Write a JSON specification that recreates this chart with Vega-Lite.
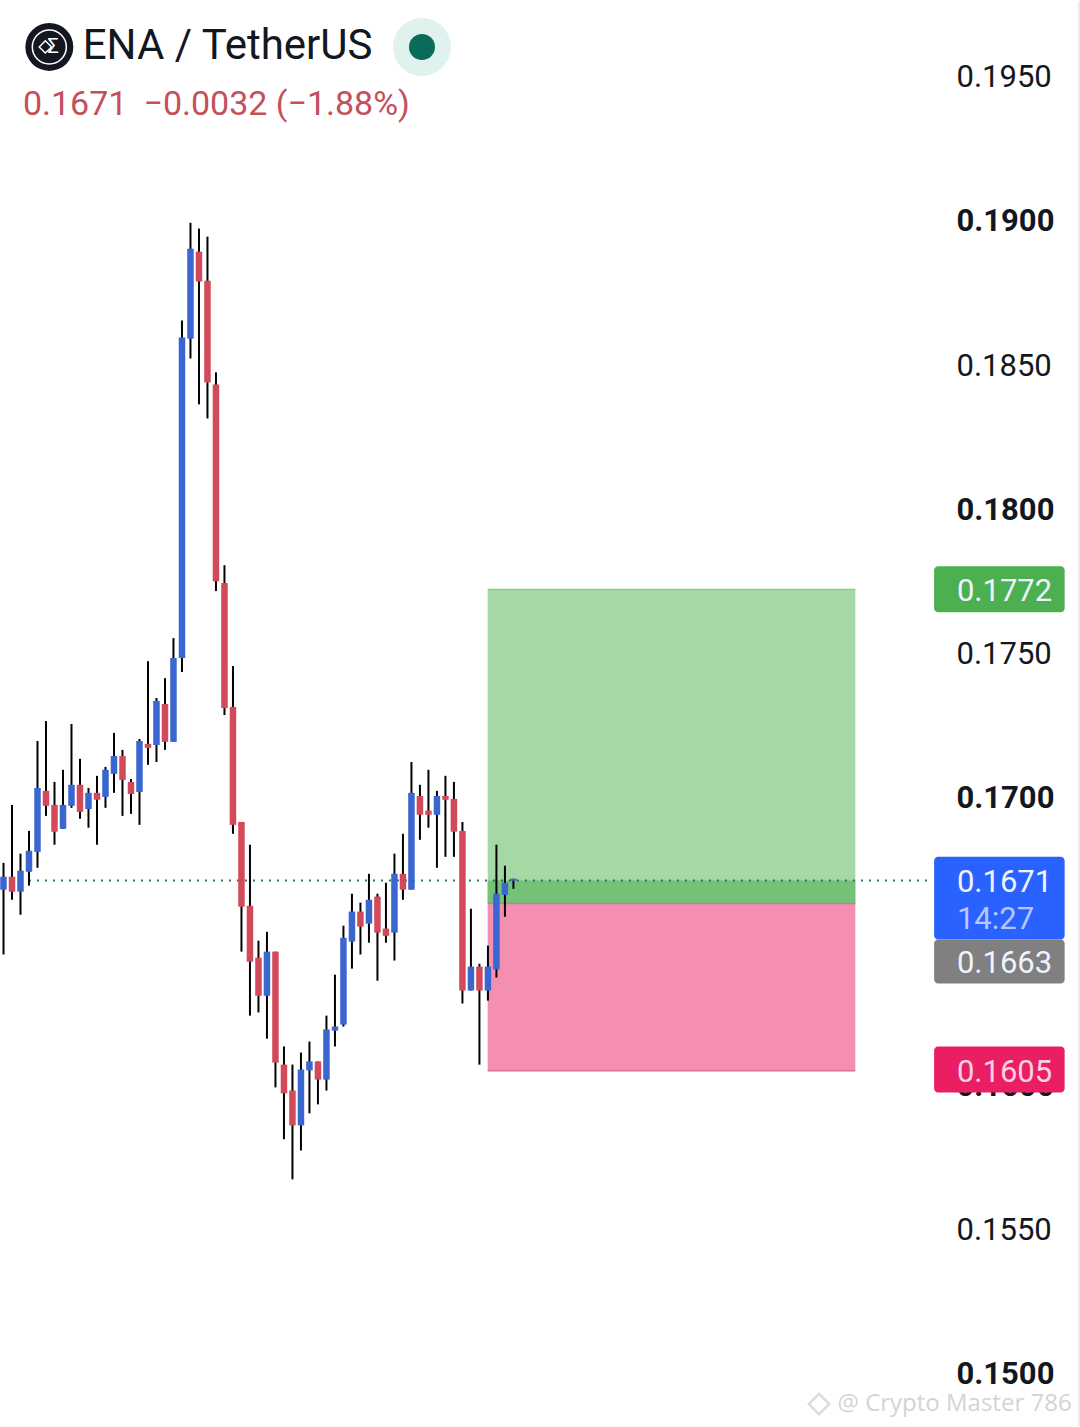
{
  "$schema": "https://vega.github.io/schema/vega-lite/v6.json",
  "width": 1080,
  "height": 1427,
  "padding": 0,
  "autosize": {"type": "fit", "contains": "padding"},
  "background": "#ffffff",
  "config": {"view": {"stroke": null}},
  "resolve": {"scale": {"color": "independent", "stroke": "independent", "fill": "independent"}},
  "datasets": {
    "candles": [
      {"bar":0,"side":"up","open":0.16678,"high":0.16771,"low":0.16453,"close":0.16723},
      {"bar":1,"side":"down","open":0.16723,"high":0.16972,"low":0.16643,"close":0.16671},
      {"bar":2,"side":"up","open":0.16671,"high":0.16803,"low":0.16591,"close":0.16744},
      {"bar":3,"side":"up","open":0.16740,"high":0.16882,"low":0.16692,"close":0.16813},
      {"bar":4,"side":"up","open":0.16809,"high":0.17194,"low":0.16754,"close":0.17031},
      {"bar":5,"side":"down","open":0.17021,"high":0.17263,"low":0.16934,"close":0.16969},
      {"bar":6,"side":"down","open":0.16972,"high":0.17052,"low":0.16834,"close":0.16879},
      {"bar":7,"side":"up","open":0.16889,"high":0.17094,"low":0.16889,"close":0.16972},
      {"bar":8,"side":"up","open":0.16969,"high":0.17253,"low":0.16962,"close":0.17042},
      {"bar":9,"side":"down","open":0.17042,"high":0.17132,"low":0.16924,"close":0.16948},
      {"bar":10,"side":"up","open":0.16958,"high":0.17031,"low":0.16893,"close":0.17014},
      {"bar":11,"side":"down","open":0.17014,"high":0.17073,"low":0.16834,"close":0.16990},
      {"bar":12,"side":"up","open":0.17000,"high":0.17104,"low":0.16962,"close":0.17094},
      {"bar":13,"side":"up","open":0.17080,"high":0.17222,"low":0.17014,"close":0.17142},
      {"bar":14,"side":"down","open":0.17142,"high":0.17163,"low":0.16934,"close":0.17059},
      {"bar":15,"side":"down","open":0.17052,"high":0.17062,"low":0.16941,"close":0.17010},
      {"bar":16,"side":"up","open":0.17017,"high":0.17201,"low":0.16903,"close":0.17194},
      {"bar":17,"side":"down","open":0.17184,"high":0.17471,"low":0.17111,"close":0.17170},
      {"bar":18,"side":"up","open":0.17180,"high":0.17343,"low":0.17121,"close":0.17333},
      {"bar":19,"side":"down","open":0.17322,"high":0.17412,"low":0.17163,"close":0.17191},
      {"bar":20,"side":"up","open":0.17191,"high":0.17551,"low":0.17191,"close":0.17482},
      {"bar":21,"side":"up","open":0.17482,"high":0.18653,"low":0.17433,"close":0.18594},
      {"bar":22,"side":"up","open":0.18590,"high":0.18992,"low":0.18521,"close":0.18902},
      {"bar":23,"side":"down","open":0.18892,"high":0.18972,"low":0.18362,"close":0.18788},
      {"bar":24,"side":"down","open":0.18791,"high":0.18944,"low":0.18313,"close":0.18438},
      {"bar":25,"side":"down","open":0.18431,"high":0.18473,"low":0.17714,"close":0.17748},
      {"bar":26,"side":"down","open":0.17742,"high":0.17804,"low":0.17284,"close":0.17308},
      {"bar":27,"side":"down","open":0.17312,"high":0.17454,"low":0.16872,"close":0.16903},
      {"bar":28,"side":"down","open":0.16913,"high":0.16913,"low":0.16463,"close":0.16619},
      {"bar":29,"side":"down","open":0.16622,"high":0.16834,"low":0.16241,"close":0.16428},
      {"bar":30,"side":"down","open":0.16442,"high":0.16501,"low":0.16252,"close":0.16310},
      {"bar":31,"side":"up","open":0.16310,"high":0.16532,"low":0.16161,"close":0.16463},
      {"bar":32,"side":"down","open":0.16463,"high":0.16463,"low":0.15992,"close":0.16078},
      {"bar":33,"side":"down","open":0.16071,"high":0.16134,"low":0.15812,"close":0.15971},
      {"bar":34,"side":"down","open":0.15981,"high":0.16071,"low":0.15673,"close":0.15860},
      {"bar":35,"side":"up","open":0.15860,"high":0.16113,"low":0.15773,"close":0.16054},
      {"bar":36,"side":"up","open":0.16051,"high":0.16151,"low":0.15902,"close":0.16082},
      {"bar":37,"side":"down","open":0.16082,"high":0.16082,"low":0.15933,"close":0.16019},
      {"bar":38,"side":"up","open":0.16019,"high":0.16241,"low":0.15981,"close":0.16193},
      {"bar":39,"side":"up","open":0.16189,"high":0.16383,"low":0.16134,"close":0.16203},
      {"bar":40,"side":"up","open":0.16210,"high":0.16553,"low":0.16203,"close":0.16511},
      {"bar":41,"side":"up","open":0.16498,"high":0.16664,"low":0.16404,"close":0.16602},
      {"bar":42,"side":"down","open":0.16602,"high":0.16633,"low":0.16453,"close":0.16550},
      {"bar":43,"side":"up","open":0.16560,"high":0.16733,"low":0.16494,"close":0.16643},
      {"bar":44,"side":"down","open":0.16654,"high":0.16664,"low":0.16362,"close":0.16529},
      {"bar":45,"side":"down","open":0.16543,"high":0.16702,"low":0.16494,"close":0.16518},
      {"bar":46,"side":"up","open":0.16529,"high":0.16803,"low":0.16432,"close":0.16733},
      {"bar":47,"side":"down","open":0.16733,"high":0.16872,"low":0.16643,"close":0.16678},
      {"bar":48,"side":"up","open":0.16678,"high":0.17121,"low":0.16678,"close":0.17014},
      {"bar":49,"side":"down","open":0.17003,"high":0.17042,"low":0.16851,"close":0.16938},
      {"bar":50,"side":"down","open":0.16952,"high":0.17094,"low":0.16893,"close":0.16938},
      {"bar":51,"side":"up","open":0.16938,"high":0.17021,"low":0.16754,"close":0.17003},
      {"bar":52,"side":"down","open":0.17003,"high":0.17073,"low":0.16792,"close":0.16990},
      {"bar":53,"side":"down","open":0.16993,"high":0.17052,"low":0.16792,"close":0.16879},
      {"bar":54,"side":"down","open":0.16882,"high":0.16913,"low":0.16283,"close":0.16328},
      {"bar":55,"side":"up","open":0.16328,"high":0.16612,"low":0.16328,"close":0.16411},
      {"bar":56,"side":"down","open":0.16411,"high":0.16421,"low":0.16071,"close":0.16328},
      {"bar":57,"side":"up","open":0.16328,"high":0.16484,"low":0.16293,"close":0.16411},
      {"bar":58,"side":"up","open":0.16401,"high":0.16834,"low":0.16373,"close":0.16664},
      {"bar":59,"side":"up","open":0.16660,"high":0.16761,"low":0.16584,"close":0.16702},
      {"bar":60,"side":"up","open":0.16709,"high":0.16716,"low":0.16681,"close":0.16716}
    ]
  },
  "layer": [
    {
      "data": {"values": [
        {"zone":"target","start":56.97,"end":100.23,"top":0.1772,"bottom":0.1663},
        {"zone":"stop","start":56.97,"end":100.23,"top":0.1663,"bottom":0.1605},
        {"zone":"progress","start":56.97,"end":100.23,"top":0.1671,"bottom":0.1663}
      ]},
      "mark": {"type": "rect"},
      "encoding": {
        "x": {"field": "start", "type": "quantitative", "scale": {"domain": [0.059, 126.666], "nice": false, "zero": false}, "axis": null},
        "x2": {"field": "end"},
        "y": {
          "field": "top",
          "type": "quantitative",
          "scale": {"domain": [0.14817, 0.197616], "nice": false, "zero": false},
          "axis": {
            "orient": "right",
            "title": null,
            "values": [0.15, 0.155, 0.16, 0.17, 0.175, 0.18, 0.185, 0.19, 0.195],
            "format": ".4f",
            "domain": false,
            "ticks": false,
            "grid": false,
            "labelAlign": "left",
            "labelPadding": -124,
            "labelOffset": 1.5,
            "labelFont": "Roboto",
            "labelFontSize": 31,
            "labelColor": "#131722",
            "labelOverlap": false,
            "labelFontWeight": {"condition": {"test": "round(datum.value * 10000) % 100 == 0", "value": "bold"}, "value": "normal"}
          }
        },
        "y2": {"field": "bottom"},
        "color": {
          "field": "zone",
          "type": "nominal",
          "scale": {"domain": ["target", "stop", "progress"], "range": ["#a5d8a5", "#f48fb1", "#76c177"]},
          "legend": null
        }
      }
    },
    {
      "data": {"values": [
        {"edge":"target","start":56.97,"end":100.23,"price":0.1772},
        {"edge":"entry","start":56.97,"end":100.23,"price":0.1663},
        {"edge":"stop","start":56.97,"end":100.23,"price":0.1605}
      ]},
      "mark": {"type": "rule", "strokeWidth": 1.5},
      "encoding": {
        "x": {"field": "start", "type": "quantitative", "axis": null},
        "x2": {"field": "end"},
        "y": {"field": "price", "type": "quantitative"},
        "stroke": {
          "field": "edge",
          "type": "nominal",
          "scale": {"domain": ["target", "entry", "stop"], "range": ["#8cc98c", "#a98a94", "#d9709c"]},
          "legend": null
        }
      }
    },
    {
      "data": {"values": [{"start": 2.99, "end": 109.08, "price": 0.1671}]},
      "mark": {"type": "rule", "color": "#26706b", "strokeWidth": 2, "strokeDash": [2, 6]},
      "encoding": {
        "x": {"field": "start", "type": "quantitative", "axis": null},
        "x2": {"field": "end"},
        "y": {"field": "price", "type": "quantitative"}
      }
    },
    {
      "data": {"name": "candles"},
      "mark": {"type": "rule", "color": "#000000", "strokeWidth": 2},
      "encoding": {
        "x": {"field": "bar", "type": "quantitative", "axis": null},
        "y": {"field": "high", "type": "quantitative"},
        "y2": {"field": "low"}
      }
    },
    {
      "data": {"name": "candles"},
      "mark": {"type": "rule", "strokeWidth": 6.5},
      "encoding": {
        "x": {"field": "bar", "type": "quantitative", "axis": null},
        "y": {"field": "open", "type": "quantitative"},
        "y2": {"field": "close"},
        "stroke": {
          "field": "side",
          "type": "nominal",
          "scale": {"domain": ["up", "down"], "range": ["#3a66d0", "#d24a5a"]},
          "legend": null
        }
      }
    },
    {
      "data": {"values": [
        {"tag":"target","start":109.5,"end":124.86,"top":0.1780,"bottom":0.17641},
        {"tag":"last","start":109.5,"end":124.86,"top":0.16792,"bottom":0.16505},
        {"tag":"entry","start":109.5,"end":124.86,"top":0.16505,"bottom":0.16352},
        {"tag":"stop","start":109.5,"end":124.86,"top":0.16134,"bottom":0.15974}
      ]},
      "mark": {"type": "rect", "cornerRadius": 4},
      "encoding": {
        "x": {"field": "start", "type": "quantitative", "axis": null},
        "x2": {"field": "end"},
        "y": {"field": "top", "type": "quantitative"},
        "y2": {"field": "bottom"},
        "fill": {
          "field": "tag",
          "type": "nominal",
          "scale": {"domain": ["target", "last", "entry", "stop"], "range": ["#4caf50", "#2962ff", "#808080", "#e91e63"]},
          "legend": null
        }
      }
    },
    {
      "data": {"values": [
        {"pos":112.18,"price":0.1772,"label":"0.1772","kind":"white"},
        {"pos":112.18,"price":0.1671,"label":"0.1671","kind":"white"},
        {"pos":112.18,"price":0.16581,"label":"14:27","kind":"pale"},
        {"pos":112.18,"price":0.16428,"label":"0.1663","kind":"white"},
        {"pos":112.18,"price":0.16051,"label":"0.1605","kind":"pink"}
      ]},
      "mark": {"type": "text", "font": "Roboto", "fontSize": 31, "align": "left", "baseline": "middle", "dy": 2.5},
      "encoding": {
        "x": {"field": "pos", "type": "quantitative", "axis": null},
        "y": {"field": "price", "type": "quantitative"},
        "text": {"field": "label"},
        "color": {
          "field": "kind",
          "type": "nominal",
          "scale": {"domain": ["white", "pale", "pink"], "range": ["#eef3ff", "#b5c8fb", "#fbd0e0"]},
          "legend": null
        }
      }
    },
    {
      "data": {"values": [{"pos": 126.55}]},
      "mark": {"type": "rule", "color": "#e6e6e6", "strokeWidth": 1.5},
      "encoding": {"x": {"field": "pos", "type": "quantitative", "axis": null}}
    },
    {
      "data": {"values": [{"pos": 5.393, "price": 0.196022}]},
      "mark": {"type": "point", "shape": "circle", "filled": true, "size": 2304, "color": "#131722", "opacity": 1},
      "encoding": {
        "x": {"field": "pos", "type": "quantitative", "axis": null},
        "y": {"field": "price", "type": "quantitative"}
      }
    },
    {
      "data": {"values": [{"pos": 5.393, "price": 0.196022}]},
      "mark": {"type": "point", "shape": "circle", "filled": false, "size": 1156, "color": "#ffffff", "strokeWidth": 1.5, "opacity": 1},
      "encoding": {
        "x": {"field": "pos", "type": "quantitative", "axis": null},
        "y": {"field": "price", "type": "quantitative"}
      }
    },
    {
      "data": {"values": [{"pos": 4.924, "price": 0.196022}]},
      "mark": {"type": "point", "shape": "diamond", "filled": false, "size": 150, "color": "#ffffff", "strokeWidth": 1.5, "opacity": 1},
      "encoding": {
        "x": {"field": "pos", "type": "quantitative", "axis": null},
        "y": {"field": "price", "type": "quantitative"}
      }
    },
    {
      "data": {"values": [{"pos": 5.862, "price": 0.196022, "label": "Σ"}]},
      "mark": {"type": "text", "font": "Roboto", "fontSize": 20, "color": "#ffffff", "align": "center", "baseline": "middle"},
      "encoding": {
        "x": {"field": "pos", "type": "quantitative", "axis": null},
        "y": {"field": "price", "type": "quantitative"},
        "text": {"field": "label"}
      }
    },
    {
      "data": {"values": [{"pos": 49.24, "price": 0.196022}]},
      "mark": {"type": "point", "shape": "circle", "filled": true, "size": 3364, "color": "#dff2ee", "opacity": 1},
      "encoding": {
        "x": {"field": "pos", "type": "quantitative", "axis": null},
        "y": {"field": "price", "type": "quantitative"}
      }
    },
    {
      "data": {"values": [{"pos": 49.24, "price": 0.196022}]},
      "mark": {"type": "point", "shape": "circle", "filled": true, "size": 676, "color": "#0b6b5a", "opacity": 1},
      "encoding": {
        "x": {"field": "pos", "type": "quantitative", "axis": null},
        "y": {"field": "price", "type": "quantitative"}
      }
    },
    {
      "data": {"values": [{"pos": 9.32, "price": 0.196057, "label": "ENA / TetherUS"}]},
      "mark": {"type": "text", "font": "Roboto", "fontSize": 42, "color": "#131722", "align": "left", "baseline": "middle"},
      "encoding": {
        "x": {"field": "pos", "type": "quantitative", "axis": null},
        "y": {"field": "price", "type": "quantitative"},
        "text": {"field": "label"}
      }
    },
    {
      "data": {"values": [
        {"pos": 2.286, "price": 0.194012, "label": "0.1671"},
        {"pos": 16.47, "price": 0.194012, "label": "−0.0032 (−1.88%)"}
      ]},
      "mark": {"type": "text", "font": "Roboto", "fontSize": 34, "color": "#c4505c", "align": "left", "baseline": "middle"},
      "encoding": {
        "x": {"field": "pos", "type": "quantitative", "axis": null},
        "y": {"field": "price", "type": "quantitative"},
        "text": {"field": "label"}
      }
    },
    {
      "data": {"values": [{"pos": 95.96, "price": 0.14893}]},
      "mark": {"type": "point", "shape": "diamond", "filled": false, "size": 420, "color": "#dcdcdc", "strokeWidth": 2.5, "opacity": 1},
      "encoding": {
        "x": {"field": "pos", "type": "quantitative", "axis": null},
        "y": {"field": "price", "type": "quantitative"}
      }
    },
    {
      "data": {"values": [{"pos": 98.12, "price": 0.14893, "label": "@ Crypto Master 786"}]},
      "mark": {"type": "text", "font": "Open Sans", "fontSize": 24, "color": "#d4d4d4", "align": "left", "baseline": "middle"},
      "encoding": {
        "x": {"field": "pos", "type": "quantitative", "axis": null},
        "y": {"field": "price", "type": "quantitative"},
        "text": {"field": "label"}
      }
    }
  ]
}
